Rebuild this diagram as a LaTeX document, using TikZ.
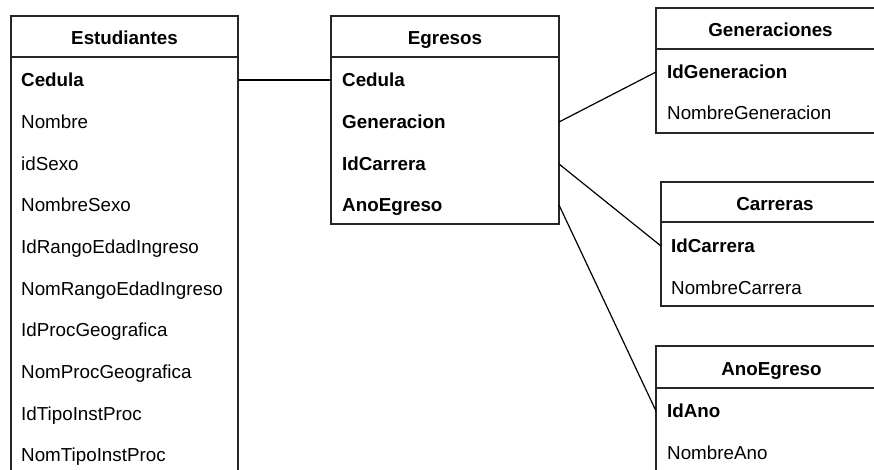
\documentclass[tikz,border=0pt]{standalone}
\usepackage{fontspec}
\setmainfont{Liberation Sans}

\begin{document}
\fontsize{18.8}{22}\selectfont
\begin{tikzpicture}[x=1pt, y=-1pt, head node/.style={rectangle, draw=black!85, line width=1.6pt, anchor=north west, minimum width=227pt, minimum height=41pt, text height=16pt, text depth=0pt, inner sep=0pt, outer sep=0pt, font=\bfseries}, body node/.style={rectangle, draw=black!85, line width=1.6pt, anchor=north west, minimum width=227pt, inner sep=0pt, outer sep=0pt}, field node/.style={anchor=west, text height=13.5pt, text depth=0pt, inner sep=0pt}, key node/.style={field node, font=\bfseries}]

\useasboundingbox (0,0) rectangle (874,469);
\clip (0,0) rectangle (874,469);

% Estudiantes
\node[head node] (est) at (11,16) {Estudiantes};
\node[body node, minimum height=460pt] (estB) at (11,57) {};
\node[key node] (est1) at (21,80) {Cedula};
\node[field node] (est2) at (21,122) {Nombre};
\node[field node] (est3) at (21,164) {idSexo};
\node[field node] (est4) at (21,205) {NombreSexo};
\node[field node] (est5) at (21,247) {IdRangoEdadIngreso};
\node[field node] (est6) at (21,289) {NomRangoEdadIngreso};
\node[field node] (est7) at (21,330) {IdProcGeografica};
\node[field node] (est8) at (21,372) {NomProcGeografica};
\node[field node] (est9) at (21,414) {IdTipoInstProc};
\node[field node] (est10) at (21,455) {NomTipoInstProc};

% Egresos
\node[head node, minimum width=228pt] (egr) at (331,16) {Egresos};
\node[body node, minimum width=228pt, minimum height=167pt] (egrB) at (331,57) {};
\node[key node] (egr1) at (342,80) {Cedula};
\node[key node] (egr2) at (342,122) {Generacion};
\node[key node] (egr3) at (342,164) {IdCarrera};
\node[key node] (egr4) at (342,205) {AnoEgreso};

% Generaciones
\node[head node, minimum width=229pt] (gen) at (656,8) {Generaciones};
\node[body node, minimum width=229pt, minimum height=84pt] (genB) at (656,49) {};
\node[key node] (gen1) at (667,72) {IdGeneracion};
\node[field node] (gen2) at (667,113) {NombreGeneracion};

% Carreras
\node[head node, minimum width=228pt, minimum height=40pt] (car) at (661,182) {Carreras};
\node[body node, minimum width=228pt, minimum height=84pt] (carB) at (661,222) {};
\node[key node] (car1) at (671,246) {IdCarrera};
\node[field node] (car2) at (671,288) {NombreCarrera};

% AnoEgreso
\node[head node, minimum width=231pt, minimum height=42pt] (ano) at (656,346) {AnoEgreso};
\node[body node, minimum width=231pt, minimum height=100pt] (anoB) at (656,388) {};
\node[key node] (ano1) at (667,411) {IdAno};
\node[field node] (ano2) at (667,453) {NombreAno};

% relaciones
\path[] (estB.east |- est1) [-, line width=1.2pt] edge node [] {} (egrB.west |- est1);
\path[] (egrB.east |- egr2) [-, line width=1.2pt] edge node [] {} (genB.west |- gen1);
\path[] (egrB.east |- egr3) [-, line width=1.2pt] edge node [] {} (carB.west |- car1);
\path[] (egrB.east |- egr4) [-, line width=1.2pt] edge node [] {} (anoB.west |- ano1);
\end{tikzpicture}
\end{document}
